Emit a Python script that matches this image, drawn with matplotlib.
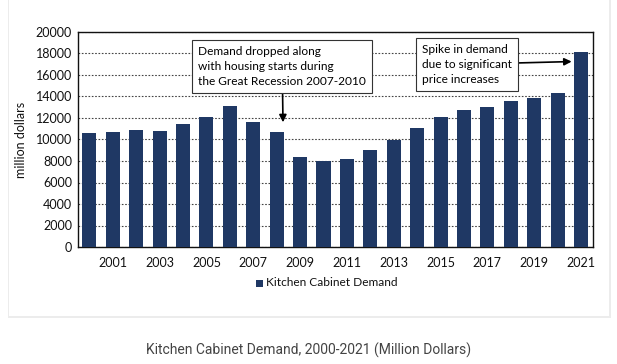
import matplotlib
matplotlib.use("Agg")
import matplotlib.pyplot as plt
from matplotlib.patches import Rectangle

# data
years = list(range(2000, 2022))
demand = [10600, 10700, 10900, 10750, 11400, 12100, 13100, 11650, 10700, 8400,
          8000, 8200, 9000, 9950, 11050, 12100, 12700, 13000, 13600, 13900,
          14350, 18100]
tick_years = list(range(2001, 2022, 2))
y_ticks = list(range(0, 20001, 2000))

BAR = "#1f3864"
CHART_FONT = ["Lato", "DejaVu Sans"]
W, H = 617, 364

fig = plt.figure(figsize=(6.17, 3.64), dpi=100)
fig.patch.set_facecolor("white")

# card with a faint shadow
fig.patches.append(Rectangle((8 / W, (364 - 318) / H), 603 / W, 318 / H + 0.01,
                             transform=fig.transFigure, facecolor="#ececec",
                             edgecolor="none", zorder=0))
fig.patches.append(Rectangle((9 / W, (364 - 316) / H), 600 / W, 316 / H + 0.01,
                             transform=fig.transFigure, facecolor="white",
                             edgecolor="none", zorder=0.5))

ax = fig.add_axes([77.7 / W, (364 - 247) / H, (592.7 - 77.7) / W, 215 / H])
ax.set_zorder(2)
ax.set_facecolor("white")
x = list(range(len(years)))
ax.bar(x, demand, width=0.6, color=BAR, zorder=3)

ax.set_xlim(-0.5, len(years) - 0.5)
ax.set_ylim(0, 20000)
ax.set_yticks(y_ticks)
ax.set_yticklabels([str(v) for v in y_ticks], family=CHART_FONT, fontsize=9, color="#111111")
ax.set_xticks([years.index(y) for y in tick_years])
ax.set_xticklabels([str(y) for y in tick_years], family=CHART_FONT, fontsize=9, color="#111111")
ax.tick_params(axis="both", length=0, pad=4)
ax.tick_params(axis="x", pad=7)
ax.yaxis.grid(True, linestyle=(0, (1.5, 1.5)), color="#444444", linewidth=0.8, zorder=0)
ax.set_axisbelow(True)
for s in ax.spines.values():
    s.set_color("#111111")
    s.set_linewidth(1.0)
ax.set_ylabel("million dollars", family=CHART_FONT, fontsize=9, color="#111111", labelpad=6)

box = dict(boxstyle="square,pad=0.5", facecolor="white", edgecolor="#333333", linewidth=0.8)
arrow = dict(arrowstyle="-|>,head_length=0.5,head_width=0.25", color="black",
             linewidth=1.2, shrinkA=0, shrinkB=0)
ax.annotate("Demand dropped along\nwith housing starts during\nthe Great Recession 2007-2010",
            xy=(8.27, 11600), xytext=(4.65, 16750), family=CHART_FONT, fontsize=8.6,
            ha="left", va="center", linespacing=1.45, zorder=5, bbox=box, arrowprops=arrow)
ax.annotate("Spike in demand\ndue to significant\nprice increases",
            xy=(20.6, 17250), xytext=(14.2, 17000), family=CHART_FONT, fontsize=8.6,
            ha="left", va="center", linespacing=1.45, zorder=5, bbox=box, arrowprops=arrow)

# legend
fig.patches.append(Rectangle((256 / W, (364 - 287) / H), 7 / W, 7 / H,
                             transform=fig.transFigure, facecolor=BAR, edgecolor="none", zorder=3))
fig.text(266 / W, (364 - 283) / H, "Kitchen Cabinet Demand", family=CHART_FONT,
         fontsize=8.6, color="#111111", ha="left", va="center")

fig.text(308.5 / W, (364 - 350) / H, "Kitchen Cabinet Demand, 2000-2021 (Million Dollars)",
         family=["Roboto", "DejaVu Sans"], fontsize=10, color="#444444", ha="center", va="center")

fig.savefig("out.png", dpi=100)
